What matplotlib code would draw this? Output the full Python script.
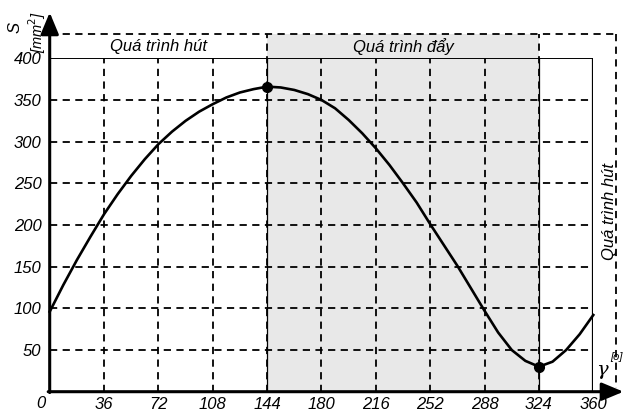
import matplotlib
matplotlib.use("Agg")
import matplotlib.pyplot as plt

# crank angle [deg] and area S [mm^2]
gamma = [0, 9, 18, 27, 36, 45, 54, 63, 72, 81, 90, 99, 108, 117, 126, 135, 144,
         153, 162, 171, 180, 189, 198, 207, 216, 225, 234, 243, 252, 261, 270,
         279, 288, 297, 306, 315, 324, 333, 342, 351, 360]
area = [96, 128, 158, 186, 213, 237, 259, 279, 297, 312, 325, 336, 345, 353, 359, 363, 366,
        365, 362, 357, 350, 340, 326, 310, 292, 272, 250, 227, 201, 176, 151,
        124, 97, 71, 50, 37, 30, 36, 50, 69, 92]

peaks = [(144, 366), (324, 30)]
x_ticks = [36, 72, 108, 144, 180, 216, 252, 288, 324, 360]
y_ticks = [50, 100, 150, 200, 250, 300, 350, 400]
push_start, push_end = 144, 324
top_dash = 429
right_dash = 375

plt.rcParams["font.family"] = ["Liberation Sans", "DejaVu Sans"]

W, H = 624, 415
fig = plt.figure(figsize=(W / 100, H / 100), dpi=100)
x0, x1 = 49.7, 593.3
y0, y1 = 391.7, 58.3
ax = fig.add_axes([x0 / W, 1 - y0 / H, (x1 - x0) / W, (y0 - y1) / H])
ax.set_xlim(0, 360)
ax.set_ylim(0, 400)

# shaded discharge zone
ax.fill_between([push_start, push_end], 0, top_dash, color="#e8e8e8", lw=0,
                zorder=0, clip_on=False)

dash = dict(color="k", lw=1.3, dashes=(4, 3), zorder=1)
for y in y_ticks[:-1]:
    ax.plot([0, 360], [y, y], **dash)
for x in x_ticks[:-1]:
    top = top_dash if x in (push_start, push_end) else 400
    ax.plot([x, x], [0, top], clip_on=False, **dash)
for x in (push_start, push_end):
    ax.plot([x, x], [0, 400], color="k", lw=0.9, zorder=1)
ax.plot([0, right_dash], [top_dash, top_dash], clip_on=False, **dash)
ax.plot([right_dash, right_dash], [top_dash, 5], clip_on=False, **dash)

# frame
ax.plot([0, 360], [400, 400], color="k", lw=1.4, zorder=2)
ax.plot([360, 360], [0, 400], color="k", lw=1.6, zorder=2)
for s in ax.spines.values():
    s.set_visible(False)

arr = dict(arrowstyle="-|>,head_length=0.6,head_width=0.25", lw=2.2, color="k",
           mutation_scale=22, shrinkA=0, shrinkB=0)
ax.annotate("", xy=(0, 455), xytext=(0, -1), arrowprops=arr,
            annotation_clip=False, zorder=5)
ax.annotate("", xy=(380, 0), xytext=(-1, 0), arrowprops=arr,
            annotation_clip=False, zorder=5)

ax.plot(gamma, area, color="k", lw=1.9, zorder=3, clip_on=False)
ax.plot([p[0] for p in peaks], [p[1] for p in peaks], "o", color="k",
        ms=7, zorder=4, clip_on=False)

ax.set_xticks(x_ticks)
ax.set_yticks(y_ticks)
ax.tick_params(length=0, labelsize=12)
ax.tick_params(axis="x", pad=4)
ax.tick_params(axis="y", pad=6)
for lab in ax.get_xticklabels() + ax.get_yticklabels():
    lab.set_fontstyle("italic")
ax.text(-6, -5, "0", fontsize=12, style="italic", ha="center", va="top")

it = dict(fontsize=12, style="italic", ha="center", va="center")
ax.text(72, 414, "Quá trình hút", **it)
ax.text(234, 414, "Quá trình đẩy", **it)
ax.text(370.5, 216, "Quá trình hút", rotation=90, clip_on=False, **it)
ax.text(-23, 437, "S", rotation=90, fontsize=12, style="italic",
        ha="center", va="center")
ax.text(-8.5, 432, "[mm$^2$]", rotation=90, fontsize=10.5, style="italic",
        ha="center", va="center")
ax.text(365.5, 26, "γ", fontsize=14, style="italic", family="DejaVu Serif",
        ha="center", va="center")
ax.text(371.5, 42, "[o]", fontsize=8, style="italic", ha="left", va="center")

fig.savefig("out.png", dpi=100)
